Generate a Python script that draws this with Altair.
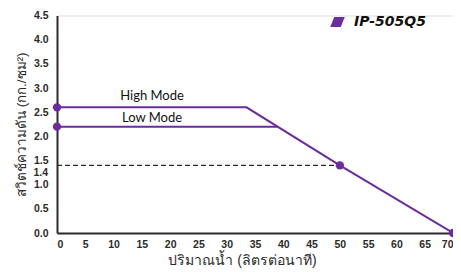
import altair as alt
import pandas as pd

# Data
high_x = [0, 33.5, 50, 70]
high_y = [2.6, 2.6, 1.4, 0.0]
low_x = [0, 39]
low_y = [2.2, 2.2]
dash_x = [0, 50]
dash_y = [1.4, 1.4]
pt_x = [0, 0, 50, 70]
pt_y = [2.6, 2.2, 1.4, 0.0]
mode_labels = ["High Mode", "Low Mode"]
mode_label_x = [16.8, 16.8]
mode_label_y = [2.83, 2.38]
x_ticks = list(range(0, 75, 5))
y_ticks = [0.0, 0.5, 1.0, 1.5, 2.0, 2.5, 3.0, 3.5, 4.0, 4.5]
extra_y_tick = [1.4]
model = "IP-505Q5"

PURPLE = "#6A2C9E"
DARK = "#2b2b2b"

xs = alt.Scale(domain=[0, 70], nice=False)
ys = alt.Scale(domain=[0, 4.5], nice=False)

x_axis = alt.Axis(values=x_ticks, title="ปริมาณน้ำ (ลิตรต่อนาที)", grid=False, ticks=False,
                  domainColor=DARK, domainWidth=2, labelColor=DARK, labelFontWeight="bold",
                  labelFontSize=10.5, labelFont="Liberation Sans", labelPadding=6,
                  labelOverlap=False, labelFlush=True,
                  titleFontSize=14, titleFontWeight="normal", titleColor=DARK,
                  titlePadding=4, titleX=185)
y_axis = alt.Axis(values=y_ticks, format=".1f", title="สวิตช์ความดัน (กก./ซม²)", grid=False,
                  ticks=False, domainColor=DARK, domainWidth=2, labelColor=DARK,
                  labelFontWeight="bold", labelFontSize=10.5, labelFont="Liberation Sans",
                  labelPadding=9, labelOverlap=False, labelFlush=False,
                  titleFontSize=13.5, titleFontWeight="normal",
                  titleColor=DARK, titlePadding=5)

high_df = pd.DataFrame({"x": high_x, "y": high_y})
low_df = pd.DataFrame({"x": low_x, "y": low_y})
dash_df = pd.DataFrame({"x": dash_x, "y": dash_y})
pt_df = pd.DataFrame({"x": pt_x, "y": pt_y, "model": [model] * len(pt_x)})
lab_df = pd.DataFrame({"x": mode_label_x, "y": mode_label_y, "t": mode_labels})
extra_df = pd.DataFrame({"y": extra_y_tick})

base_x = alt.X("x:Q", scale=xs, axis=x_axis)
base_y = alt.Y("y:Q", scale=ys, axis=y_axis)

dash = alt.Chart(dash_df).mark_line(color=DARK, strokeDash=[5, 3], strokeWidth=1.4).encode(
    x=base_x, y=base_y)
high = alt.Chart(high_df).mark_line(color=PURPLE, strokeWidth=2).encode(x=base_x, y=base_y)
low = alt.Chart(low_df).mark_line(color=PURPLE, strokeWidth=2).encode(x=base_x, y=base_y)
pts = alt.Chart(pt_df).mark_circle(size=70, opacity=1).encode(
    x=base_x, y=base_y,
    color=alt.Color("model:N", scale=alt.Scale(domain=[model], range=[PURPLE]),
                    legend=alt.Legend(title=None, orient="none", legendX=273, legendY=-1,
                                      symbolType="M -0.45 -0.7 L 1 -0.7 L 0.45 0.7 L -1 0.7 Z",
                                      symbolSize=210, symbolOpacity=1,
                                      symbolStrokeWidth=0, symbolFillColor=PURPLE,
                                      labelFont="DejaVu Sans", labelFontSize=14,
                                      labelFontWeight="bold", labelFontStyle="italic",
                                      labelColor="#111111", labelOffset=9)))
labels = alt.Chart(lab_df).mark_text(fontSize=13, font="Lato", color="#111111").encode(
    x=base_x, y=base_y, text="t:N")
extra = alt.Chart(extra_df).mark_text(align="right", baseline="middle", dx=-9, dy=7.5,
                                       fontSize=10.5, fontWeight="bold", font="Liberation Sans",
                                       color=DARK).encode(
    x=alt.value(0), y=alt.Y("y:Q", scale=ys, axis=y_axis),
    text=alt.Text("y:Q", format=".1f"))

chart = alt.layer(dash, high, low, pts, labels, extra).properties(
    width=396, height=217.5,
    autosize=alt.AutoSizeParams(type="none"),
    padding={"left": 49, "top": 7.5, "right": 0, "bottom": 38},
).configure_view(stroke=None).configure_axis(labelOverlap=False).configure(background="white")

chart.save("out.html", embed_options={"renderer": "svg", "actions": False})
